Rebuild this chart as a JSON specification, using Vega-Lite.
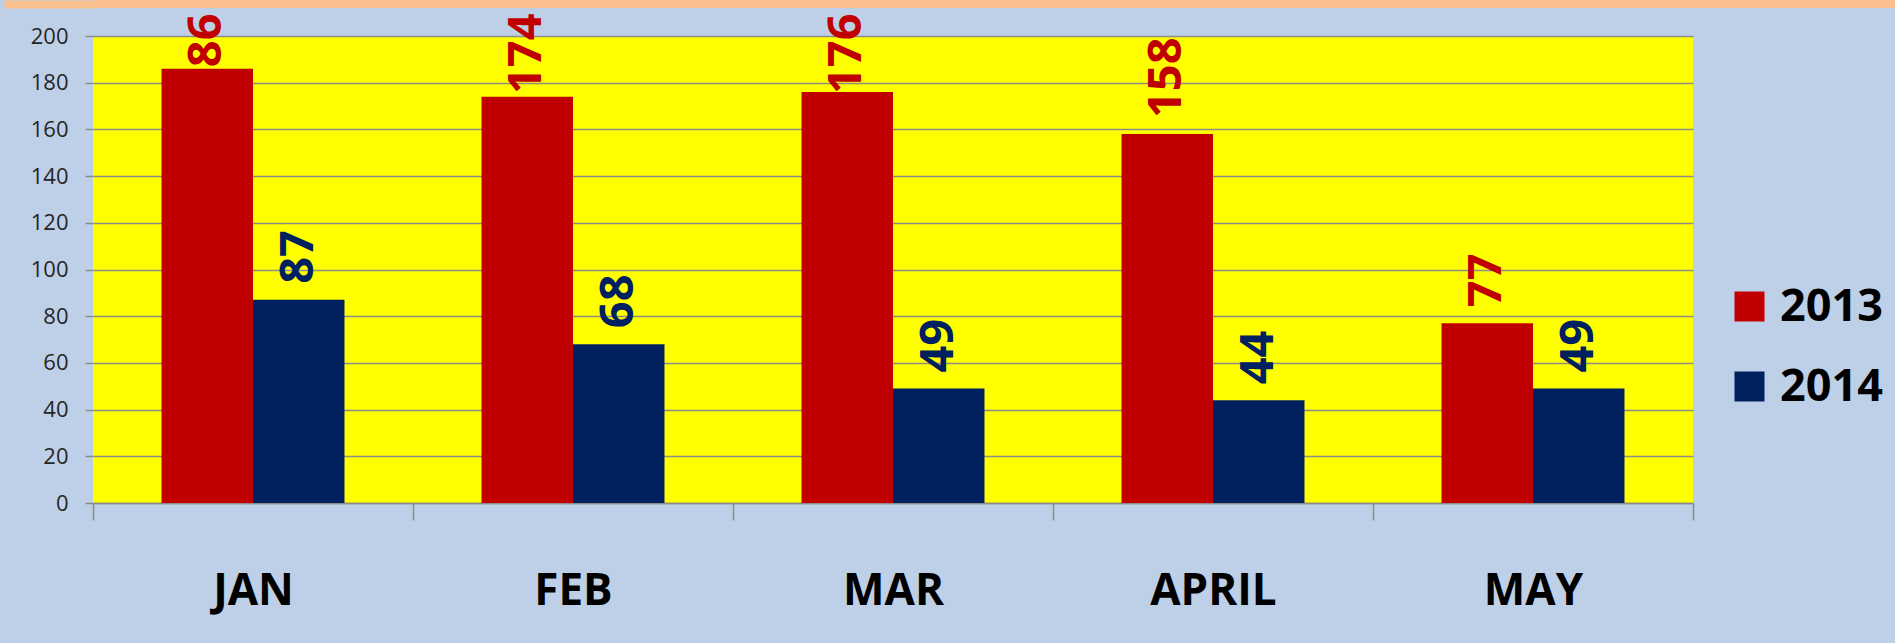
{
  "$schema": "https://vega.github.io/schema/vega-lite/v6.json",
  "background": "#BED0E8",
  "padding": {"left": 0, "top": 0, "right": 0, "bottom": 30},
  "spacing": 5,
  "config": {"font": "Open Sans", "view": {"stroke": null}},
  "resolve": {"scale": {"x": "independent", "y": "independent"}},
  "datasets": {
    "sales": [
      {"month": "JAN", "year": "2013", "value": 186},
      {"month": "JAN", "year": "2014", "value": 87},
      {"month": "FEB", "year": "2013", "value": 174},
      {"month": "FEB", "year": "2014", "value": 68},
      {"month": "MAR", "year": "2013", "value": 176},
      {"month": "MAR", "year": "2014", "value": 49},
      {"month": "APRIL", "year": "2013", "value": 158},
      {"month": "APRIL", "year": "2014", "value": 44},
      {"month": "MAY", "year": "2013", "value": 77},
      {"month": "MAY", "year": "2014", "value": 49}
    ]
  },
  "vconcat": [
    {
      "width": 1802,
      "height": 8,
      "view": {"fill": "#FAC090", "stroke": null},
      "data": {"values": []},
      "mark": "rect",
      "encoding": {
        "y": {
          "field": "band",
          "type": "quantitative",
          "scale": {"domain": [0, 1], "nice": false},
          "axis": {
            "title": null,
            "values": [0.5],
            "labels": false,
            "domain": false,
            "grid": false,
            "ticks": true,
            "tickSize": 89,
            "tickWidth": 8,
            "tickColor": "#FAC090",
            "tickCap": "butt"
          }
        }
      }
    },
    {
      "width": 1600,
      "height": 467,
      "view": {"fill": "#FFFF00", "stroke": null},
      "data": {"name": "sales"},
      "encoding": {
        "x": {
          "field": "month",
          "type": "nominal",
          "sort": ["JAN", "FEB", "MAR", "APRIL", "MAY"],
          "scale": {"paddingInner": 0, "paddingOuter": 0},
          "axis": {
            "title": null,
            "tickBand": "extent",
            "grid": false,
            "domainColor": "#8C8C8C",
            "domainWidth": 1.5,
            "tickColor": "#8C8C8C",
            "tickWidth": 1.5,
            "tickSize": 17,
            "labelAngle": 0,
            "labelFont": "Open Sans",
            "labelFontSize": 44,
            "labelFontWeight": "bold",
            "labelColor": "#000000",
            "labelBaseline": "alphabetic",
            "labelPadding": 84
          }
        },
        "xOffset": {
          "field": "year",
          "type": "nominal",
          "scale": {"paddingInner": 0, "paddingOuter": 0.749}
        }
      },
      "layer": [
        {
          "mark": {"type": "bar"},
          "encoding": {
            "y": {
              "field": "value",
              "type": "quantitative",
              "scale": {"domain": [0, 200], "nice": false},
              "axis": {
                "title": null,
                "values": [0, 20, 40, 60, 80, 100, 120, 140, 160, 180, 200],
                "grid": true,
                "gridColor": "#8C8C8C",
                "gridWidth": 1.5,
                "domain": false,
                "tickColor": "#8C8C8C",
                "tickWidth": 1.5,
                "tickSize": 8,
                "labelFont": "Open Sans",
                "labelFontSize": 22,
                "labelColor": "#262626",
                "labelPadding": 17,
                "minExtent": 93
              }
            },
            "color": {
              "field": "year",
              "type": "nominal",
              "scale": {"domain": ["2013", "2014"], "range": ["#C00000", "#002060"]},
              "legend": {
                "title": null,
                "orient": "none",
                "legendX": 1634,
                "legendY": 284,
                "symbolType": "square",
                "symbolSize": 900,
                "symbolStrokeWidth": 0,
                "labelFont": "Open Sans",
                "labelFontSize": 45,
                "labelFontWeight": "bold",
                "labelColor": "#000000",
                "labelOffset": 8,
                "rowPadding": 34
              }
            }
          }
        },
        {
          "mark": {
            "type": "text",
            "angle": 270,
            "align": "left",
            "baseline": "middle",
            "dx": 16,
            "font": "Open Sans",
            "fontSize": 47,
            "fontWeight": "bold"
          },
          "encoding": {
            "y": {
              "field": "value",
              "type": "quantitative",
              "scale": {"domain": [0, 168.3], "range": [467, 74], "clamp": true, "nice": false, "zero": false},
              "axis": null
            },
            "text": {"field": "value", "type": "quantitative"},
            "color": {"field": "year", "type": "nominal", "legend": null}
          }
        }
      ],
      "resolve": {"scale": {"y": "independent"}}
    }
  ]
}
